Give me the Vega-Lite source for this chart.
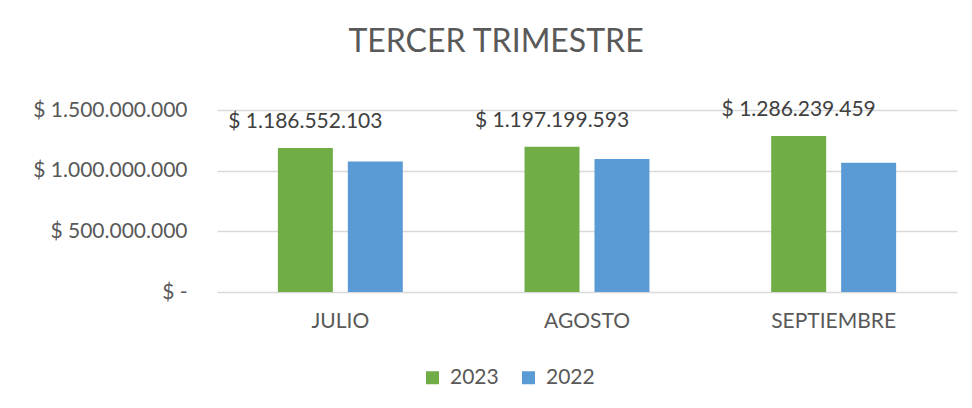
{
  "$schema": "https://vega.github.io/schema/vega-lite/v6.json",
  "autosize": {"type": "none"},
  "width": 740,
  "height": 182,
  "padding": {"left": 217, "top": 110, "right": 15, "bottom": 116},
  "background": "white",
  "config": {
    "locale": {"number": {"decimal": ",", "thousands": ".", "grouping": [3], "currency": ["$ ", ""]}},
    "font": "Lato",
    "view": {"stroke": null},
    "axis": {"labelFont": "Lato", "labelColor": "#595959", "labelFontSize": 21},
    "legend": {"labelFont": "Lato", "labelColor": "#595959", "labelFontSize": 21}
  },
  "title": {
    "text": "TERCER TRIMESTRE",
    "font": "Lato",
    "fontSize": 32,
    "fontWeight": "normal",
    "color": "#595959",
    "anchor": "middle",
    "frame": "group",
    "dx": -91,
    "offset": 40
  },
  "data": {
    "values": [
      {"mes": "JULIO", "anio": "2023", "valor": 1186552103},
      {"mes": "JULIO", "anio": "2022", "valor": 1076000000},
      {"mes": "AGOSTO", "anio": "2023", "valor": 1197199593},
      {"mes": "AGOSTO", "anio": "2022", "valor": 1096000000},
      {"mes": "SEPTIEMBRE", "anio": "2023", "valor": 1286239459},
      {"mes": "SEPTIEMBRE", "anio": "2022", "valor": 1065000000}
    ]
  },
  "encoding": {
    "x": {
      "field": "mes", "type": "nominal", "sort": null,
      "scale": {"paddingInner": 0.4935, "paddingOuter": 0.2468},
      "axis": {"title": null, "labelAngle": 0, "domain": false, "ticks": false, "labelPadding": 18}
    },
    "xOffset": {
      "field": "anio", "type": "nominal", "sort": ["2023", "2022"],
      "scale": {"paddingInner": 0.214, "paddingOuter": 0}
    },
    "y": {
      "field": "valor", "type": "quantitative",
      "scale": {"domain": [0, 1500000000], "nice": false},
      "axis": {
        "title": null, "values": [0, 500000000, 1000000000, 1500000000],
        "format": "$,.0f",
        "labelExpr": "datum.value === 0 ? '$ -\u2003' : datum.label",
        "domain": false, "ticks": false, "labelPadding": 30,
        "gridColor": "#D9D9D9", "gridWidth": 1.3
      }
    }
  },
  "layer": [
    {
      "mark": {"type": "bar"},
      "encoding": {
        "color": {
          "field": "anio", "type": "nominal",
          "scale": {"domain": ["2023", "2022"], "range": ["#70AD47", "#5B9BD5"]},
          "legend": {
            "title": null, "orient": "none", "direction": "horizontal",
            "legendX": 205, "legendY": 257,
            "symbolType": "square", "symbolSize": 169, "symbolStrokeWidth": 0,
            "labelOffset": 7, "columnPadding": 19
          }
        }
      }
    },
    {
      "transform": [{"filter": "datum.anio === '2023'"}],
      "mark": {"type": "text", "baseline": "middle", "dy": -26, "fontSize": 21, "color": "#404040", "font": "Lato"},
      "encoding": {
        "text": {"field": "valor", "type": "quantitative", "format": "$,.0f"}
      }
    }
  ]
}
